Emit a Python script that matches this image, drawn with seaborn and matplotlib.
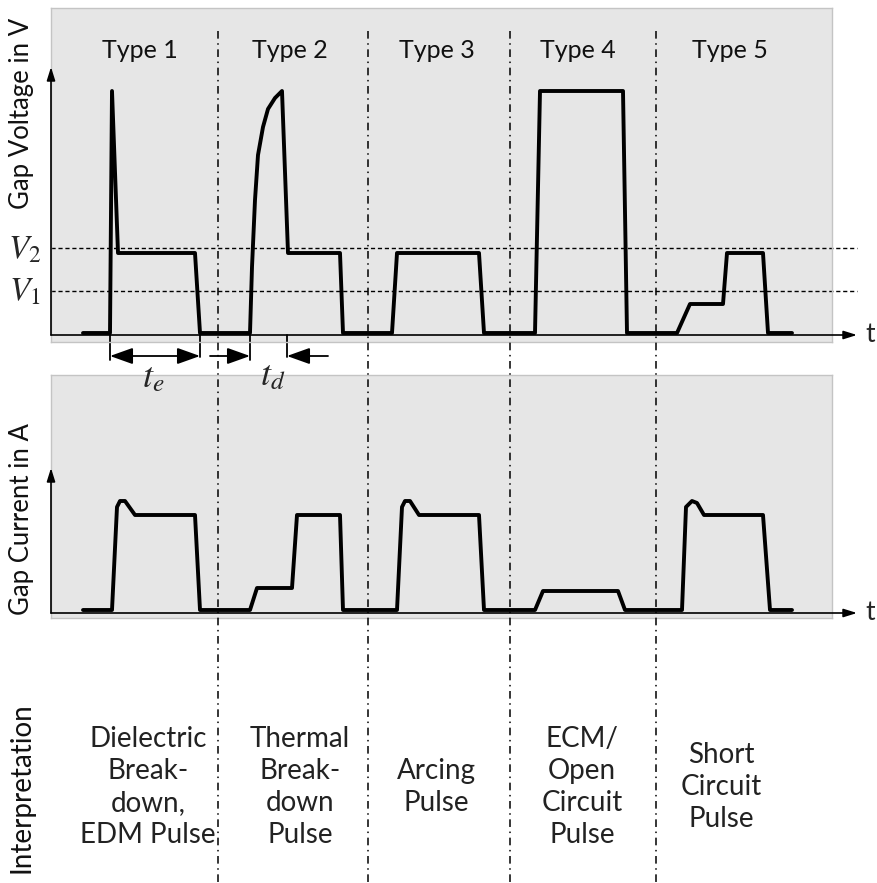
import numpy as np
import pandas as pd
import matplotlib
matplotlib.use("Agg")
import matplotlib.pyplot as plt
import seaborn as sns
from matplotlib import transforms
from matplotlib.lines import Line2D

# ---------------- data (schematic units) ----------------
type_labels = ["Type 1", "Type 2", "Type 3", "Type 4", "Type 5"]
type_centers = [8.9, 23.9, 38.6, 52.7, 67.9]
interp_labels = ["Dielectric\nBreak-\ndown,\nEDM Pulse",
                 "Thermal\nBreak-\ndown\nPulse",
                 "Arcing\nPulse",
                 "ECM/\nOpen\nCircuit\nPulse",
                 "Short\nCircuit\nPulse"]
interp_centers = [9.7, 24.9, 38.5, 53.1, 67.0]
separators = [16.7, 31.7, 45.9, 60.5]

v_levels = {"V2": 8.7, "V1": 4.4}

t_volt = [3.2, 5.9, 6.1, 6.7, 14.4, 14.9,
          19.9, 20.1, 20.4, 20.7, 21.2, 21.7, 22.4, 23.1, 23.7, 28.9, 29.2,
          34.1, 34.6, 42.8, 43.3,
          48.4, 48.9, 57.2, 57.6,
          62.6, 63.9, 67.2, 67.6, 71.2, 71.7, 74.1]
volt = [0.2, 0.2, 24.4, 8.2, 8.2, 0.2,
        0.2, 6.8, 13.5, 18.0, 20.8, 22.6, 23.7, 24.4, 8.2, 8.2, 0.2,
        0.2, 8.2, 8.2, 0.2,
        0.2, 24.4, 24.4, 0.2,
        0.2, 3.1, 3.1, 8.2, 8.2, 0.2, 0.2]

t_curr = [3.2, 6.1, 6.6, 6.9, 7.4, 8.4, 14.4, 14.9,
          19.9, 20.6, 24.1, 24.6, 28.9, 29.2,
          34.6, 35.1, 35.4, 35.9, 36.8, 42.8, 43.3,
          48.4, 49.2, 56.7, 57.4,
          63.1, 63.5, 64.1, 64.6, 65.3, 71.2, 71.9, 74.1]
curr = [0.3, 0.3, 10.6, 11.2, 11.2, 9.8, 9.8, 0.3,
        0.3, 2.5, 2.5, 9.8, 9.8, 0.3,
        0.3, 10.6, 11.2, 11.2, 9.8, 9.8, 0.3,
        0.3, 2.2, 2.2, 0.3,
        0.3, 10.6, 11.2, 11.0, 9.8, 9.8, 0.3, 0.3]

te_span = (5.9, 14.9)
td_span = (19.9, 23.6)

# ---------------- style ----------------
sns.set_style("white")
plt.rcParams["font.family"] = ["Lato", "DejaVu Sans"]
plt.rcParams["mathtext.fontset"] = "stix"

W, H = 877, 883
fig = plt.figure(figsize=(W / 100, H / 100), dpi=100)
fig.patch.set_facecolor("white")


def px_axes(x0, y0, x1, y1):
    return fig.add_axes([x0 / W, 1 - y1 / H, (x1 - x0) / W, (y1 - y0) / H])


ax_i = px_axes(51, 375, 832, 618)
ax_v = px_axes(51, 8, 832, 342)
ax_v.set_zorder(2)
ax_i.set_zorder(1)
ax_v.set_xlim(0, 78.1)
ax_v.set_ylim(-0.7, 32.7)
ax_i.set_xlim(0, 78.1)
ax_i.set_ylim(-0.5, 23.8)

for ax in (ax_v, ax_i):
    ax.set_facecolor("#e6e6e6")
    ax.set_xticks([])
    ax.set_yticks([])
    for s in ax.spines.values():
        s.set_color("#c4c4c4")
        s.set_linewidth(1.0)

df_v = pd.DataFrame({"t": t_volt, "V": volt})
df_i = pd.DataFrame({"t": t_curr, "I": curr})

# reference dashed levels
for name, lv in v_levels.items():
    ax_v.plot([0, 80.6], [lv, lv], color="black", lw=1.0, ls=(0, (3, 2)),
              clip_on=False, zorder=2)

sns.lineplot(data=df_v, x="t", y="V", ax=ax_v, color="black", lw=2.8,
             sort=False, estimator=None, zorder=4)
sns.lineplot(data=df_i, x="t", y="I", ax=ax_i, color="black", lw=2.8,
             sort=False, estimator=None, zorder=4)
for ax in (ax_v, ax_i):
    ax.set_xlabel("")
    ax.set_ylabel("")

# axes arrows
arrow_kw = dict(arrowstyle="-|>,head_length=0.8,head_width=0.25", lw=1.2,
                color="black", shrinkA=0, shrinkB=0)
ax_v.annotate("", xy=(0, 26.8), xytext=(0, 0), arrowprops=arrow_kw,
              annotation_clip=False, zorder=5)
ax_v.annotate("", xy=(80.6, 0), xytext=(0, 0), arrowprops=arrow_kw,
              annotation_clip=False, zorder=5)
ax_i.annotate("", xy=(0, 14.5), xytext=(0, 0), arrowprops=arrow_kw,
              annotation_clip=False, zorder=5)
ax_i.annotate("", xy=(80.6, 0), xytext=(0, 0), arrowprops=arrow_kw,
              annotation_clip=False, zorder=5)
ax_v.text(81.9, 0, "t", fontsize=19, ha="center", va="center")
ax_i.text(81.9, 0, "t", fontsize=19, ha="center", va="center")

# level labels
ax_v.text(-2.6, 8.5, r"$V_2$", fontsize=24, ha="center", va="center")
ax_v.text(-2.6, 4.3, r"$V_1$", fontsize=24, ha="center", va="center")

# type labels
for lab, c in zip(type_labels, type_centers):
    ax_v.text(c, 28.5, lab, fontsize=18, ha="center", va="center",
              color="#111111")

# separators (dash-dot), from inside top panel to bottom of figure
trans = transforms.blended_transform_factory(ax_v.transData, fig.transFigure)
for s in separators:
    fig.add_artist(Line2D([s, s], [1 - 31 / H, 0], transform=trans,
                          color="black", lw=1.1, ls=(0, (5, 3, 1, 3)),
                          zorder=3))

# t_e and t_d annotations
lw_ann = 1.3
for x, y1 in [(te_span[0], -2.5), (te_span[1], -2.2),
              (td_span[0], -2.5), (td_span[1], -2.2)]:
    ax_v.plot([x, x], [0, y1], color="black", lw=lw_ann, clip_on=False)
head = "head_length=1.4,head_width=0.5"
ax_v.annotate("", xy=(te_span[0], -2.1), xytext=(te_span[1], -2.1),
              arrowprops=dict(arrowstyle="<|-|>," + head,
                              lw=lw_ann, color="black", shrinkA=0, shrinkB=0),
              annotation_clip=False)
ax_v.annotate("", xy=(td_span[0], -2.1), xytext=(15.9, -2.1),
              arrowprops=dict(arrowstyle="-|>," + head,
                              lw=lw_ann, color="black", shrinkA=0, shrinkB=0),
              annotation_clip=False)
ax_v.annotate("", xy=(td_span[1], -2.1), xytext=(27.7, -2.1),
              arrowprops=dict(arrowstyle="-|>," + head,
                              lw=lw_ann, color="black", shrinkA=0, shrinkB=0),
              annotation_clip=False)
ax_v.text(10.2, -4.3, r"$t_e$", fontsize=26, ha="center", va="center")
ax_v.text(22.2, -4.0, r"$t_d$", fontsize=26, ha="center", va="center")

# y labels
fig.text(22 / W, 1 - 113 / H, "Gap Voltage in V", rotation=90, fontsize=18.5,
         ha="center", va="center", color="#111111")
fig.text(22 / W, 1 - 519 / H, "Gap Current in A", rotation=90, fontsize=18.5,
         ha="center", va="center", color="#111111")
fig.text(22 / W, 1 - 788 / H, "Interpretation", rotation=90, fontsize=20,
         ha="center", va="center", color="#111111")

# interpretation texts
for lab, c in zip(interp_labels, interp_centers):
    fig.text(c, 1 - 787 / H, lab, transform=trans, fontsize=20, ha="center",
             va="center", linespacing=1.3, color="#222222")

fig.savefig("out.png", dpi=100, facecolor="white")
